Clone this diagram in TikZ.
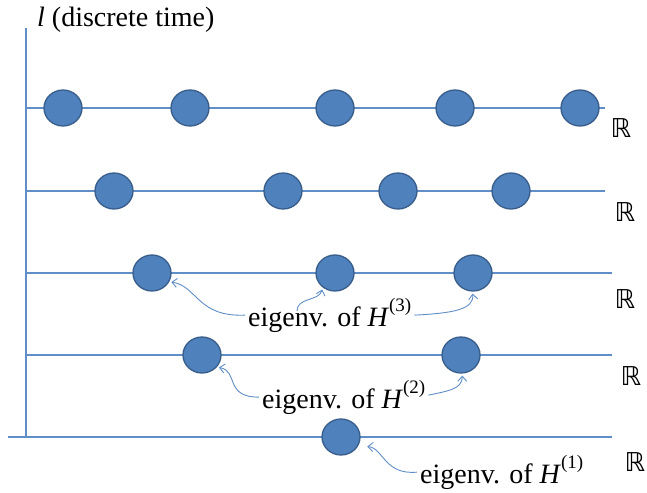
\documentclass[tikz,border=0pt]{standalone}
\usepackage{amssymb}
\usepackage{fontspec}
\setmainfont{Liberation Serif}
\newfontfamily\dsfont{DejaVu Sans}
\usetikzlibrary{shapes.geometric,arrows.meta}
\definecolor{dotblue}{RGB}{79, 129, 189}
\definecolor{dotedge}{RGB}{56, 93, 138}
\definecolor{lineblue}{RGB}{96, 142, 198}
\providecommand{\hsup}[1]{\raisebox{0.52em}{\fontsize{19}{19}\selectfont(#1)}}

\begin{document}
\begin{tikzpicture}[x=1pt, y=-1pt,
      ev/.style={ellipse, draw=dotedge, fill=dotblue, line width=1.3pt,
                 minimum width=38pt, minimum height=36pt, inner sep=0pt},
      ax/.style={draw=lineblue, line width=1.4pt},
      rlbl/.style={font=\dsfont\fontsize{26}{26}\selectfont, inner sep=0pt},
      elbl/.style={font=\fontsize{28}{30}\selectfont, inner sep=0pt,
                   anchor=base west},
      eig/.style={draw=lineblue, line width=0.9pt,
                  -{Straight Barb[length=5pt, width=9pt]}},
    ]
    \useasboundingbox (0,0) rectangle (647,492);
    %% vertical axis
    \coordinate (ax-s) at (26,437);
    \coordinate (ax-n) at (26,28);
    \draw[ax] (ax-s) -- (ax-n);
    \node[elbl] (ttl) at (37,27) {\textit{l} (discrete time)};
    %% horizontal lines, one for each l
    \foreach \r/\yy/\xw/\xe in {5/108/26/605, 4/191/26/605, 3/273/26/612,
                                2/355/26/612, 1/437/8/612}{
      \coordinate (l\r-w) at (\xw,\yy);
      \coordinate (l\r-e) at (\xe,\yy);
      \draw[ax] (l\r-w) -- (l\r-e);
    }
    %% eigenvalues
    \foreach \r/\yy/\xs in {5/108/{63,190,335,455,580}, 4/191/{114,283,398,511},
                            3/273/{152,335,473}, 2/355/{202,461}, 1/437/{341}}{
      \foreach \xx [count=\i] in \xs{
        \node[ev] (c\r-\i) at (\xx,\yy) {};
      }
    }
    %% real lines
    \node[rlbl] (R5) at (621,128) {ℝ};
    \node[rlbl] (R4) at (625,212) {ℝ};
    \node[rlbl] (R3) at (625,299) {ℝ};
    \node[rlbl] (R2) at (631,376) {ℝ};
    \node[rlbl] (R1) at (635,462) {ℝ};
    %% labels
    \node[elbl] (h3) at (248,326) {eigenv. of \textit{H}\hsup{3}};
    \node[elbl] (h2) at (262,408) {eigenv. of \textit{H}\hsup{2}};
    \node[elbl] (h1) at (420,483) {eigenv. of \textit{H}\hsup{1}};
    %% arrows to the eigenvalues
    \draw[eig, shorten >=2pt] ([xshift=-3pt]h3.west)
      .. controls +(-48,2) and +(28,4) .. (c3-1.-27);
    \draw[eig, shorten >=2pt] ([xshift=49pt, yshift=-13pt]h3.north west)
      .. controls +(0,-14) and +(-4,14) .. (c3-2.-130);
    \draw[eig, shorten >=2pt] ([xshift=3pt]h3.east)
      .. controls +(38,-2) and +(2,18) .. (c3-3.-92);
    \draw[eig, shorten >=2pt] ([xshift=-3pt]h2.west)
      .. controls +(-35,0) and +(22,4) .. (c2-1.-39);
    \draw[eig, shorten >=2pt] ([xshift=3pt, yshift=2pt]h2.east)
      .. controls +(18,-4) and +(0,16) .. (c2-2.-86);
    \draw[eig, shorten >=9pt] ([xshift=-3pt]h1.west)
      .. controls +(-33,3) and +(25,2) .. (c1-1.-27);
\end{tikzpicture}
\end{document}
